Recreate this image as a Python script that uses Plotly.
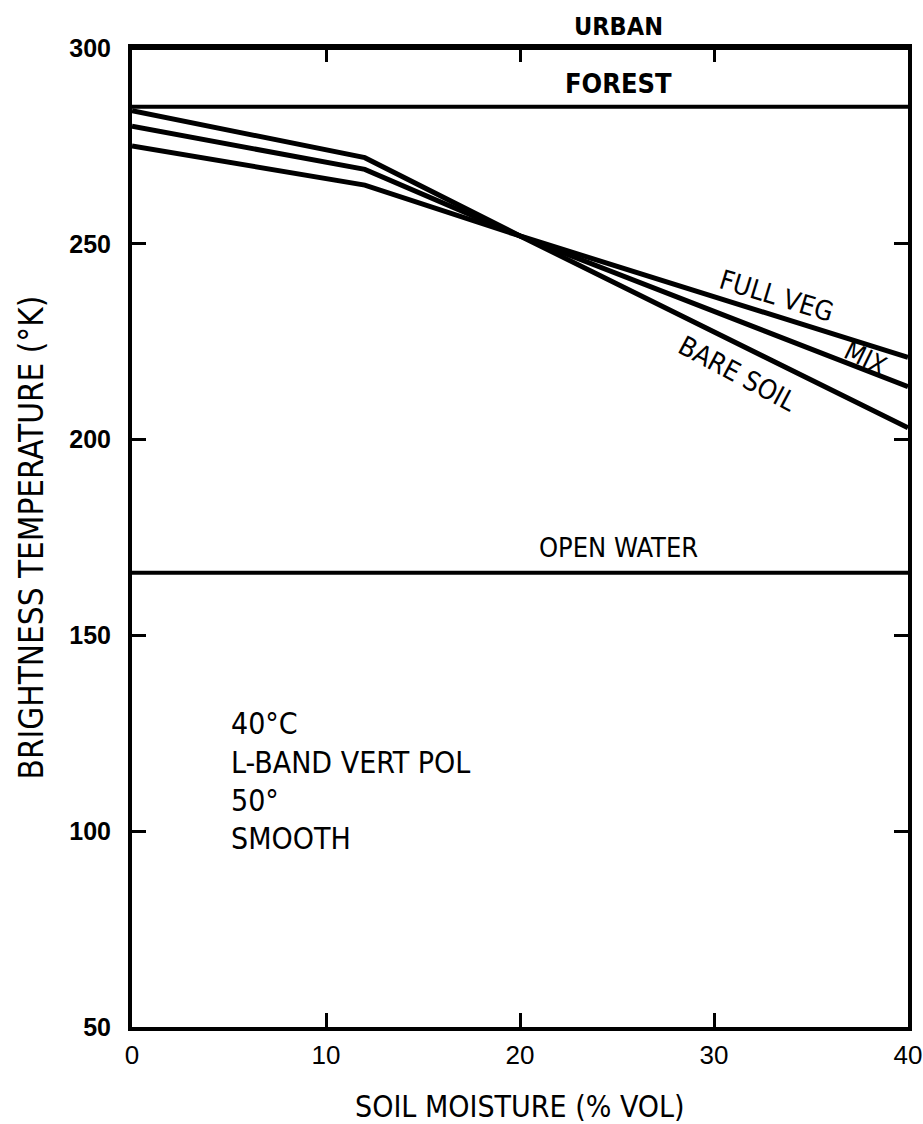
import plotly.graph_objects as go

# ---- data ----
moisture = [0, 12, 20, 40]
bare_soil = [284, 272, 252, 203]
mix = [280, 269, 252, 213.5]
full_veg = [275, 265, 252, 221]

flat_x = [0, 40]
urban = [300, 300]
forest = [285, 285]
open_water = [166, 166]

x_ticks = [0, 10, 20, 30, 40]
y_ticks = [50, 100, 150, 200, 250, 300]

TXT = "DejaVu Sans Condensed, DejaVu Sans, sans-serif"
NUM = "Liberation Sans, Arial, sans-serif"

fig = go.Figure()
line = dict(color="black", width=5)
for name, ys in [("BARE SOIL", bare_soil), ("MIX", mix), ("FULL VEG", full_veg)]:
    fig.add_trace(go.Scatter(x=moisture, y=ys, mode="lines", name=name, line=line))
for name, ys in [("URBAN", urban), ("FOREST", forest), ("OPEN WATER", open_water)]:
    fig.add_trace(go.Scatter(x=flat_x, y=ys, mode="lines", name=name,
                             line=dict(color="black", width=4)))

ann = []
def A(text, x, y, size=25, angle=0, xanchor="center", yanchor="middle", font=TXT,
      xref="x", yref="y", yshift=0):
    ann.append(dict(text=text, x=x, y=y, xref=xref, yref=yref, showarrow=False,
                    textangle=angle, xanchor=xanchor, yanchor=yanchor, yshift=yshift,
                    font=dict(family=font, size=size, color="black")))

A("<b>URBAN</b>", 25.1, 1.0, size=25, yref="paper", yshift=22)
A("<b>FOREST</b>", 25.1, 291, size=27)
A("OPEN WATER", 25.1, 172.5, size=27)
A("FULL VEG", 33.2, 236.8, size=27, angle=17)
A("MIX", 37.8, 220.8, size=26, angle=26)
A("BARE SOIL", 31.2, 216.8, size=27, angle=28)
A("40°C", 5.0, 127.5, size=30, xanchor="left")
A("L-BAND VERT POL", 5.0, 117.6, size=30, xanchor="left")
A("50°", 5.0, 107.9, size=30, xanchor="left")
A("SMOOTH", 5.0, 98.1, size=30, xanchor="left")
A("SOIL MOISTURE (% VOL)", 0.5, -0.081, size=30, xref="paper", yref="paper")
A("BRIGHTNESS TEMPERATURE (°K)", -0.129, 0.50, size=33, angle=-90, xref="paper", yref="paper")

fig.update_layout(
    width=923, height=1124,
    margin=dict(l=132, r=15, t=48, b=97, autoexpand=False),
    paper_bgcolor="white", plot_bgcolor="white",
    showlegend=False,
    annotations=ann,
)
fig.update_xaxes(range=[0, 40], tickvals=x_ticks, ticktext=[str(v) for v in x_ticks],
                 showgrid=False, zeroline=False, showline=True, linecolor="black", linewidth=4,
                 mirror="allticks", ticks="inside", ticklen=14, tickwidth=3, tickcolor="black",
                 tickfont=dict(family=NUM, size=26, color="black"), ticklabelstandoff=2,
                 ticklabeloverflow="allow", automargin=False)
fig.update_yaxes(range=[50, 300], tickvals=y_ticks, ticktext=[f"<b>{v}</b>" for v in y_ticks],
                 showgrid=False, zeroline=False, showline=True, linecolor="black", linewidth=4,
                 mirror="allticks", ticks="inside", ticklen=14, tickwidth=3, tickcolor="black",
                 tickfont=dict(family=NUM, size=25, color="black"), ticklabelstandoff=12,
                 ticklabeloverflow="allow", automargin=False)

fig.write_html("out.html")
